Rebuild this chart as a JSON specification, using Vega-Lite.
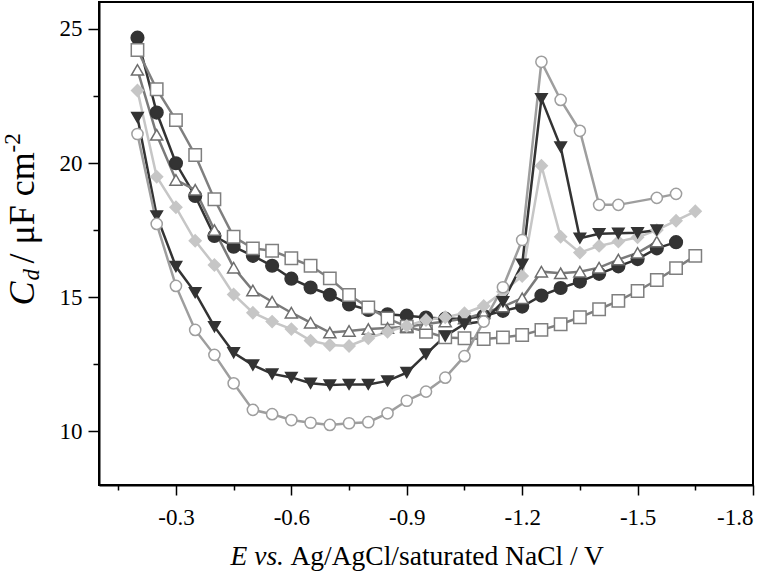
{
  "$schema": "https://vega.github.io/schema/vega-lite/v6.json",
  "width": 654,
  "height": 483,
  "autosize": {"type": "none"},
  "padding": {"left": 99, "top": 2, "right": 21, "bottom": 87},
  "background": "white",
  "config": {
    "view": {"stroke": "black", "strokeWidth": 2},
    "axis": {
      "grid": false,
      "domainColor": "black",
      "domainWidth": 2,
      "tickColor": "black",
      "tickWidth": 1.5,
      "labelFont": "Liberation Serif",
      "labelFontSize": 23,
      "labelColor": "black",
      "titleFont": "Liberation Serif",
      "titleFontSize": 27.5,
      "titleColor": "black",
      "titleFontWeight": "normal",
      "titleAlign": "left",
      "titleBaseline": "alphabetic"
    }
  },
  "data": {
    "values": [
      {"series": "A", "E": -0.2, "Cd": 24.67}, {"series": "A", "E": -0.25, "Cd": 21.88}, {"series": "A", "E": -0.3, "Cd": 19.99}, {"series": "A", "E": -0.35, "Cd": 18.77}, {"series": "A", "E": -0.4, "Cd": 17.28}, {"series": "A", "E": -0.45, "Cd": 16.88}, {"series": "A", "E": -0.5, "Cd": 16.54}, {"series": "A", "E": -0.55, "Cd": 16.17}, {"series": "A", "E": -0.6, "Cd": 15.69}, {"series": "A", "E": -0.65, "Cd": 15.36}, {"series": "A", "E": -0.7, "Cd": 15.09}, {"series": "A", "E": -0.75, "Cd": 14.73}, {"series": "A", "E": -0.8, "Cd": 14.52}, {"series": "A", "E": -0.85, "Cd": 14.36}, {"series": "A", "E": -0.9, "Cd": 14.31}, {"series": "A", "E": -0.95, "Cd": 14.24}, {"series": "A", "E": -1.0, "Cd": 14.2}, {"series": "A", "E": -1.05, "Cd": 14.2}, {"series": "A", "E": -1.1, "Cd": 14.3}, {"series": "A", "E": -1.15, "Cd": 14.49}, {"series": "A", "E": -1.2, "Cd": 14.65}, {"series": "A", "E": -1.25, "Cd": 15.06}, {"series": "A", "E": -1.3, "Cd": 15.34}, {"series": "A", "E": -1.35, "Cd": 15.58}, {"series": "A", "E": -1.4, "Cd": 15.87}, {"series": "A", "E": -1.45, "Cd": 16.15}, {"series": "A", "E": -1.5, "Cd": 16.42}, {"series": "A", "E": -1.55, "Cd": 16.82}, {"series": "A", "E": -1.6, "Cd": 17.05},
      {"series": "B", "E": -0.2, "Cd": 24.21}, {"series": "B", "E": -0.25, "Cd": 22.75}, {"series": "B", "E": -0.3, "Cd": 21.6}, {"series": "B", "E": -0.35, "Cd": 20.3}, {"series": "B", "E": -0.4, "Cd": 18.65}, {"series": "B", "E": -0.45, "Cd": 17.25}, {"series": "B", "E": -0.5, "Cd": 16.82}, {"series": "B", "E": -0.55, "Cd": 16.73}, {"series": "B", "E": -0.6, "Cd": 16.45}, {"series": "B", "E": -0.65, "Cd": 16.17}, {"series": "B", "E": -0.7, "Cd": 15.7}, {"series": "B", "E": -0.75, "Cd": 15.08}, {"series": "B", "E": -0.8, "Cd": 14.62}, {"series": "B", "E": -0.85, "Cd": 14.21}, {"series": "B", "E": -0.9, "Cd": 13.9}, {"series": "B", "E": -0.95, "Cd": 13.71}, {"series": "B", "E": -1.0, "Cd": 13.5}, {"series": "B", "E": -1.05, "Cd": 13.47}, {"series": "B", "E": -1.1, "Cd": 13.44}, {"series": "B", "E": -1.15, "Cd": 13.5}, {"series": "B", "E": -1.2, "Cd": 13.59}, {"series": "B", "E": -1.25, "Cd": 13.78}, {"series": "B", "E": -1.3, "Cd": 13.99}, {"series": "B", "E": -1.35, "Cd": 14.25}, {"series": "B", "E": -1.4, "Cd": 14.55}, {"series": "B", "E": -1.45, "Cd": 14.86}, {"series": "B", "E": -1.5, "Cd": 15.23}, {"series": "B", "E": -1.55, "Cd": 15.64}, {"series": "B", "E": -1.6, "Cd": 16.08}, {"series": "B", "E": -1.65, "Cd": 16.54},
      {"series": "C", "E": -0.2, "Cd": 23.47}, {"series": "C", "E": -0.25, "Cd": 21.05}, {"series": "C", "E": -0.3, "Cd": 19.37}, {"series": "C", "E": -0.35, "Cd": 19.0}, {"series": "C", "E": -0.4, "Cd": 17.5}, {"series": "C", "E": -0.45, "Cd": 16.1}, {"series": "C", "E": -0.5, "Cd": 15.25}, {"series": "C", "E": -0.55, "Cd": 14.83}, {"series": "C", "E": -0.6, "Cd": 14.42}, {"series": "C", "E": -0.65, "Cd": 14.05}, {"series": "C", "E": -0.7, "Cd": 13.68}, {"series": "C", "E": -0.75, "Cd": 13.74}, {"series": "C", "E": -0.8, "Cd": 13.81}, {"series": "C", "E": -0.85, "Cd": 13.85}, {"series": "C", "E": -0.9, "Cd": 13.9}, {"series": "C", "E": -0.95, "Cd": 14.0}, {"series": "C", "E": -1.0, "Cd": 14.09}, {"series": "C", "E": -1.05, "Cd": 14.2}, {"series": "C", "E": -1.1, "Cd": 14.4}, {"series": "C", "E": -1.15, "Cd": 14.65}, {"series": "C", "E": -1.2, "Cd": 14.96}, {"series": "C", "E": -1.25, "Cd": 15.95}, {"series": "C", "E": -1.3, "Cd": 15.89}, {"series": "C", "E": -1.35, "Cd": 15.95}, {"series": "C", "E": -1.4, "Cd": 16.1}, {"series": "C", "E": -1.45, "Cd": 16.4}, {"series": "C", "E": -1.5, "Cd": 16.65}, {"series": "C", "E": -1.55, "Cd": 17.07},
      {"series": "D", "E": -0.2, "Cd": 22.7}, {"series": "D", "E": -0.25, "Cd": 19.49}, {"series": "D", "E": -0.3, "Cd": 18.35}, {"series": "D", "E": -0.35, "Cd": 17.1}, {"series": "D", "E": -0.4, "Cd": 16.2}, {"series": "D", "E": -0.45, "Cd": 15.1}, {"series": "D", "E": -0.5, "Cd": 14.42}, {"series": "D", "E": -0.55, "Cd": 14.09}, {"series": "D", "E": -0.6, "Cd": 13.81}, {"series": "D", "E": -0.65, "Cd": 13.38}, {"series": "D", "E": -0.7, "Cd": 13.22}, {"series": "D", "E": -0.75, "Cd": 13.18}, {"series": "D", "E": -0.8, "Cd": 13.47}, {"series": "D", "E": -0.85, "Cd": 13.71}, {"series": "D", "E": -0.9, "Cd": 13.93}, {"series": "D", "E": -0.95, "Cd": 14.15}, {"series": "D", "E": -1.0, "Cd": 14.25}, {"series": "D", "E": -1.05, "Cd": 14.4}, {"series": "D", "E": -1.1, "Cd": 14.67}, {"series": "D", "E": -1.15, "Cd": 15.2}, {"series": "D", "E": -1.2, "Cd": 15.79}, {"series": "D", "E": -1.25, "Cd": 19.9}, {"series": "D", "E": -1.3, "Cd": 17.25}, {"series": "D", "E": -1.35, "Cd": 16.66}, {"series": "D", "E": -1.4, "Cd": 16.91}, {"series": "D", "E": -1.45, "Cd": 17.07}, {"series": "D", "E": -1.5, "Cd": 17.23}, {"series": "D", "E": -1.55, "Cd": 17.5}, {"series": "D", "E": -1.6, "Cd": 17.85}, {"series": "D", "E": -1.65, "Cd": 18.2},
      {"series": "E", "E": -0.2, "Cd": 21.7}, {"series": "E", "E": -0.25, "Cd": 18.03}, {"series": "E", "E": -0.3, "Cd": 16.14}, {"series": "E", "E": -0.35, "Cd": 15.17}, {"series": "E", "E": -0.4, "Cd": 13.9}, {"series": "E", "E": -0.45, "Cd": 12.93}, {"series": "E", "E": -0.5, "Cd": 12.47}, {"series": "E", "E": -0.55, "Cd": 12.14}, {"series": "E", "E": -0.6, "Cd": 12.01}, {"series": "E", "E": -0.65, "Cd": 11.79}, {"series": "E", "E": -0.7, "Cd": 11.73}, {"series": "E", "E": -0.75, "Cd": 11.75}, {"series": "E", "E": -0.8, "Cd": 11.75}, {"series": "E", "E": -0.85, "Cd": 11.88}, {"series": "E", "E": -0.9, "Cd": 12.19}, {"series": "E", "E": -0.95, "Cd": 12.88}, {"series": "E", "E": -1.0, "Cd": 13.55}, {"series": "E", "E": -1.05, "Cd": 14.0}, {"series": "E", "E": -1.1, "Cd": 14.1}, {"series": "E", "E": -1.15, "Cd": 14.83}, {"series": "E", "E": -1.2, "Cd": 16.23}, {"series": "E", "E": -1.25, "Cd": 22.4}, {"series": "E", "E": -1.3, "Cd": 20.6}, {"series": "E", "E": -1.35, "Cd": 17.2}, {"series": "E", "E": -1.4, "Cd": 17.36}, {"series": "E", "E": -1.45, "Cd": 17.38}, {"series": "E", "E": -1.5, "Cd": 17.4}, {"series": "E", "E": -1.55, "Cd": 17.5},
      {"series": "F", "E": -0.2, "Cd": 21.08}, {"series": "F", "E": -0.25, "Cd": 17.73}, {"series": "F", "E": -0.3, "Cd": 15.42}, {"series": "F", "E": -0.35, "Cd": 13.78}, {"series": "F", "E": -0.4, "Cd": 12.85}, {"series": "F", "E": -0.45, "Cd": 11.79}, {"series": "F", "E": -0.5, "Cd": 10.8}, {"series": "F", "E": -0.55, "Cd": 10.64}, {"series": "F", "E": -0.6, "Cd": 10.42}, {"series": "F", "E": -0.65, "Cd": 10.32}, {"series": "F", "E": -0.7, "Cd": 10.24}, {"series": "F", "E": -0.75, "Cd": 10.3}, {"series": "F", "E": -0.8, "Cd": 10.34}, {"series": "F", "E": -0.85, "Cd": 10.67}, {"series": "F", "E": -0.9, "Cd": 11.14}, {"series": "F", "E": -0.95, "Cd": 11.48}, {"series": "F", "E": -1.0, "Cd": 12.0}, {"series": "F", "E": -1.05, "Cd": 12.8}, {"series": "F", "E": -1.1, "Cd": 14.09}, {"series": "F", "E": -1.15, "Cd": 15.37}, {"series": "F", "E": -1.2, "Cd": 17.13}, {"series": "F", "E": -1.25, "Cd": 23.77}, {"series": "F", "E": -1.3, "Cd": 22.35}, {"series": "F", "E": -1.35, "Cd": 21.2}, {"series": "F", "E": -1.4, "Cd": 18.44}, {"series": "F", "E": -1.45, "Cd": 18.44}, {"series": "F", "E": -1.55, "Cd": 18.7}, {"series": "F", "E": -1.6, "Cd": 18.85}
    ]
  },
  "resolve": {"axis": {"x": "independent", "y": "independent"}},
  "layer": [
    {
      "transform": [{"filter": {"field": "series", "oneOf": ["A", "B", "C"]}}],
      "mark": {"type": "line", "strokeWidth": 2.5},
      "encoding": {
        "x": {"field": "E", "type": "quantitative", "scale": {"domain": [-1.8, -0.1], "reverse": true, "nice": false, "zero": false},
              "axis": {"orient": "bottom", "values": [-0.15, -0.45, -0.75, -1.05, -1.35, -1.65], "labels": false, "domain": false, "tickSize": 5,
                       "title": "Ag/AgCl/saturated NaCl / V", "titleX": 191, "titleY": 79, "titleAngle": 0}},
        "y": {"field": "Cd", "type": "quantitative", "scale": {"domain": [8, 26], "nice": false, "zero": false},
              "axis": {"orient": "left", "values": [12.5, 17.5, 22.5], "labels": false, "domain": false, "tickSize": 6,
                       "title": "/ μF cm", "titleFontSize": 36, "titleX": -66, "titleY": 261, "titleAngle": 270}},
        "color": {"field": "series", "type": "nominal", "legend": null,
                  "scale": {"domain": ["A", "B", "C", "D", "E", "F"], "range": ["#333333", "#7f7f7f", "#7a7a7a", "#c6c6c6", "#333333", "#9e9e9e"]}},
        "order": {"field": "E", "type": "quantitative", "sort": "descending"}
      }
    },
    {
      "transform": [{"filter": {"field": "series", "oneOf": ["D", "E", "F"]}}],
      "mark": {"type": "line", "strokeWidth": 2.5},
      "encoding": {
        "x": {"field": "E", "type": "quantitative", "axis": null},
        "y": {"field": "Cd", "type": "quantitative",
              "axis": {"orient": "left", "values": [], "ticks": false, "labels": false, "domain": false,
                       "title": "d", "titleFontStyle": "italic", "titleFontSize": 23, "titleX": -61, "titleY": 278, "titleAngle": 270}},
        "color": {"field": "series", "type": "nominal", "legend": null},
        "order": {"field": "E", "type": "quantitative", "sort": "descending"}
      }
    },
    {
      "transform": [{"filter": {"field": "series", "oneOf": ["A", "B", "C"]}}],
      "mark": {"type": "point", "filled": true, "strokeWidth": 1.5, "opacity": 1},
      "encoding": {
        "x": {"field": "E", "type": "quantitative",
              "axis": {"orient": "bottom", "values": [-0.3, -0.6, -0.9, -1.2, -1.5, -1.8], "format": ".1f", "labelExpr": "replace(datum.label, '−', '-')", "tickSize": 10, "labelPadding": 11,
                       "title": "E vs.", "titleFontStyle": "italic", "titleX": 131, "titleY": 79, "titleAngle": 0}},
        "y": {"field": "Cd", "type": "quantitative",
              "axis": {"orient": "left", "values": [10, 15, 20, 25], "tickSize": 11, "labelPadding": 6,
                       "title": "C", "titleFontStyle": "italic", "titleFontSize": 36, "titleX": -66, "titleY": 303, "titleAngle": 270}},
        "shape": {"field": "series", "type": "nominal", "legend": null,
                  "scale": {"domain": ["A", "B", "C", "D", "E", "F"], "range": ["circle", "square", "triangle-up", "diamond", "triangle-down", "circle"]}},
        "fill": {"field": "series", "type": "nominal", "legend": null,
                 "scale": {"domain": ["A", "B", "C", "D", "E", "F"], "range": ["#333333", "#ffffff", "#ffffff", "#c6c6c6", "#333333", "#ffffff"]}},
        "stroke": {"field": "series", "type": "nominal", "legend": null,
                   "scale": {"domain": ["A", "B", "C", "D", "E", "F"], "range": ["#333333", "#7f7f7f", "#6e6e6e", "#c6c6c6", "#333333", "#9e9e9e"]}},
        "size": {"field": "series", "type": "nominal", "legend": null,
                 "scale": {"domain": ["A", "B", "C", "D", "E", "F"], "range": [160, 125, 210, 190, 190, 155]}}
      }
    },
    {
      "transform": [{"filter": {"field": "series", "oneOf": ["D", "E", "F"]}}],
      "mark": {"type": "point", "filled": true, "strokeWidth": 1.5, "opacity": 1},
      "encoding": {
        "x": {"field": "E", "type": "quantitative", "axis": null},
        "y": {"field": "Cd", "type": "quantitative",
              "axis": {"orient": "left", "values": [], "ticks": false, "labels": false, "domain": false,
                       "title": "-2", "titleFontSize": 23, "titleX": -80, "titleY": 150, "titleAngle": 270}},
        "shape": {"field": "series", "type": "nominal", "legend": null},
        "fill": {"field": "series", "type": "nominal", "legend": null},
        "stroke": {"field": "series", "type": "nominal", "legend": null},
        "size": {"field": "series", "type": "nominal", "legend": null}
      }
    }
  ]
}
